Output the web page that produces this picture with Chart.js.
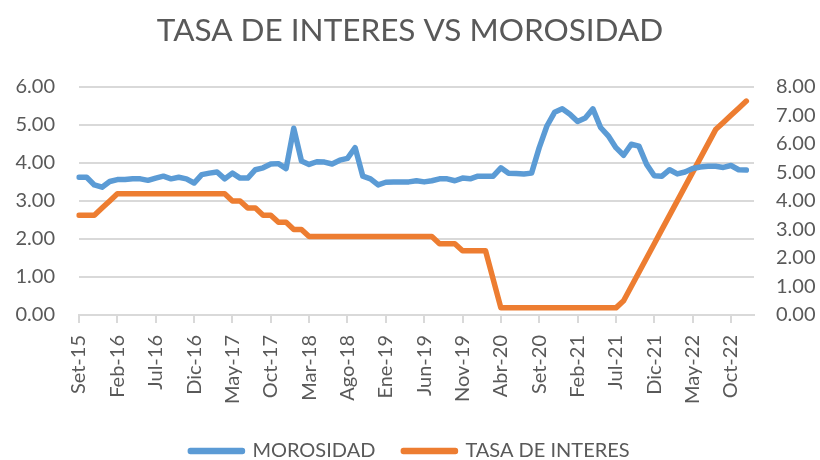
<!DOCTYPE html>
<html lang="es">
<head>
    <meta charset="UTF-8">
    <title>Tasa de interes vs morosidad</title>
    <script src="https://cdn.jsdelivr.net/npm/chart.js"></script>
    <style>
        html, body { margin: 0; padding: 0; background: #fff; }
        #wrap { width: 820px; height: 460px; }
    </style>
</head>
<body>
<div id="wrap"><canvas id="grafico"></canvas></div>
<script>
    // meses de Set-15 a Ene-23 (el ultimo sin dato)
    const meses = [
        "Set-15","Oct-15","Nov-15","Dic-15",
        "Ene-16","Feb-16","Mar-16","Abr-16","May-16","Jun-16","Jul-16","Ago-16","Set-16","Oct-16","Nov-16","Dic-16",
        "Ene-17","Feb-17","Mar-17","Abr-17","May-17","Jun-17","Jul-17","Ago-17","Set-17","Oct-17","Nov-17","Dic-17",
        "Ene-18","Feb-18","Mar-18","Abr-18","May-18","Jun-18","Jul-18","Ago-18","Set-18","Oct-18","Nov-18","Dic-18",
        "Ene-19","Feb-19","Mar-19","Abr-19","May-19","Jun-19","Jul-19","Ago-19","Set-19","Oct-19","Nov-19","Dic-19",
        "Ene-20","Feb-20","Mar-20","Abr-20","May-20","Jun-20","Jul-20","Ago-20","Set-20","Oct-20","Nov-20","Dic-20",
        "Ene-21","Feb-21","Mar-21","Abr-21","May-21","Jun-21","Jul-21","Ago-21","Set-21","Oct-21","Nov-21","Dic-21",
        "Ene-22","Feb-22","Mar-22","Abr-22","May-22","Jun-22","Jul-22","Ago-22","Set-22","Oct-22","Nov-22","Dic-22",
        "Ene-23"
    ];

    const morosidad = [
        3.62, 3.62, 3.42, 3.36,
        3.51, 3.56, 3.56, 3.58, 3.58, 3.54, 3.60, 3.65, 3.58, 3.62, 3.58, 3.47,
        3.69, 3.73, 3.76, 3.58, 3.73, 3.60, 3.60, 3.82, 3.87, 3.97, 3.98, 3.85,
        4.91, 4.05, 3.96, 4.03, 4.02, 3.97, 4.07, 4.12, 4.40, 3.65, 3.58, 3.42,
        3.49, 3.50, 3.50, 3.50, 3.53, 3.50, 3.53, 3.58, 3.58, 3.53, 3.60, 3.58,
        3.65, 3.65, 3.65, 3.87, 3.73, 3.72, 3.71, 3.73, 4.40, 4.97, 5.33, 5.42,
        5.28, 5.09, 5.18, 5.42, 4.93, 4.71, 4.40, 4.20, 4.49, 4.44, 3.96, 3.66,
        3.65, 3.82, 3.71, 3.76, 3.85, 3.89, 3.91, 3.91, 3.88, 3.93, 3.82, 3.81,
        null
    ];

    const tasaInteres = [
        3.50, 3.50, 3.50, 3.75,
        4.00, 4.25, 4.25, 4.25, 4.25, 4.25, 4.25, 4.25, 4.25, 4.25, 4.25, 4.25,
        4.25, 4.25, 4.25, 4.25, 4.00, 4.00, 3.75, 3.75, 3.50, 3.50, 3.25, 3.25,
        3.00, 3.00, 2.75, 2.75, 2.75, 2.75, 2.75, 2.75, 2.75, 2.75, 2.75, 2.75,
        2.75, 2.75, 2.75, 2.75, 2.75, 2.75, 2.75, 2.50, 2.50, 2.50, 2.25, 2.25,
        2.25, 2.25, 1.25, 0.25, 0.25, 0.25, 0.25, 0.25, 0.25, 0.25, 0.25, 0.25,
        0.25, 0.25, 0.25, 0.25, 0.25, 0.25, 0.25, 0.50, 1.00, 1.50, 2.00, 2.50,
        3.00, 3.50, 4.00, 4.50, 5.00, 5.50, 6.00, 6.50, 6.75, 7.00, 7.25, 7.50,
        null
    ];

    const ticksIzq = [0, 1, 2, 3, 4, 5, 6];
    const ticksDer = [0, 1, 2, 3, 4, 5, 6, 7, 8];

    const gris = "#595959";
    const grilla = "#d9d9d9";
    const fuente = "Lato, 'Open Sans', sans-serif";

    const ctx = document.getElementById("grafico").getContext("2d");
    new Chart(ctx, {
        type: "line",
        data: {
            labels: meses,
            datasets: [{
                label: "MOROSIDAD",
                data: morosidad,
                yAxisID: "y",
                borderColor: "#5b9bd5",
                backgroundColor: "#5b9bd5",
                borderWidth: 5.5,
                pointRadius: 0,
                tension: 0,
                borderCapStyle: "round",
                borderJoinStyle: "round"
            }, {
                label: "TASA DE INTERES",
                data: tasaInteres,
                yAxisID: "y1",
                borderColor: "#ed7d31",
                backgroundColor: "#ed7d31",
                borderWidth: 5.5,
                pointRadius: 0,
                tension: 0,
                borderCapStyle: "round",
                borderJoinStyle: "round"
            }]
        },
        options: {
            responsive: true,
            maintainAspectRatio: false,
            animation: false,
            layout: { padding: { left: 0, right: 0, top: 0, bottom: -11 } },
            plugins: {
                title: {
                    display: true,
                    text: "TASA DE INTERES VS MOROSIDAD",
                    color: gris,
                    font: { family: fuente, size: 31.5, weight: "normal" },
                    padding: { top: 12, bottom: 37 }
                },
                legend: {
                    position: "bottom",
                    labels: {
                        color: gris,
                        font: { family: fuente, size: 20 },
                        boxWidth: 52,
                        boxHeight: 1,
                        padding: 28
                    }
                },
                tooltip: { enabled: false }
            },
            scales: {
                x: {
                    offset: false,
                    afterFit: function(scale) { scale.height = 98; },
                    grid: {
                        drawOnChartArea: false,
                        drawTicks: true,
                        tickLength: 8,
                        lineWidth: 2,
                        color: function(c) { return c.index % 5 === 0 ? grilla : "rgba(0,0,0,0)"; }
                    },
                    border: { display: true, color: grilla, width: 2 },
                    ticks: {
                        autoSkip: false,
                        maxRotation: 90,
                        minRotation: 90,
                        padding: 12,
                        color: gris,
                        font: { family: fuente, size: 20 },
                        callback: function(v, i) { return i % 5 === 0 ? meses[i] : ""; }
                    }
                },
                y: {
                    position: "left",
                    min: 0,
                    max: 6,
                    afterFit: function(scale) { scale.width = 79; },
                    afterBuildTicks: function(scale) { scale.ticks = ticksIzq.map(v => ({ value: v })); },
                    grid: { color: grilla, lineWidth: 2, drawTicks: false },
                    border: { display: false },
                    ticks: {
                        padding: 24,
                        color: gris,
                        font: { family: fuente, size: 20 },
                        callback: v => v.toFixed(2)
                    }
                },
                y1: {
                    position: "right",
                    min: 0,
                    max: 8,
                    afterFit: function(scale) { scale.width = 66; },
                    afterBuildTicks: function(scale) { scale.ticks = ticksDer.map(v => ({ value: v })); },
                    grid: { drawOnChartArea: false, drawTicks: false },
                    border: { display: false },
                    ticks: {
                        padding: 22,
                        color: gris,
                        font: { family: fuente, size: 20 },
                        callback: v => v.toFixed(2)
                    }
                }
            }
        }
    });
</script>
</body>
</html>
